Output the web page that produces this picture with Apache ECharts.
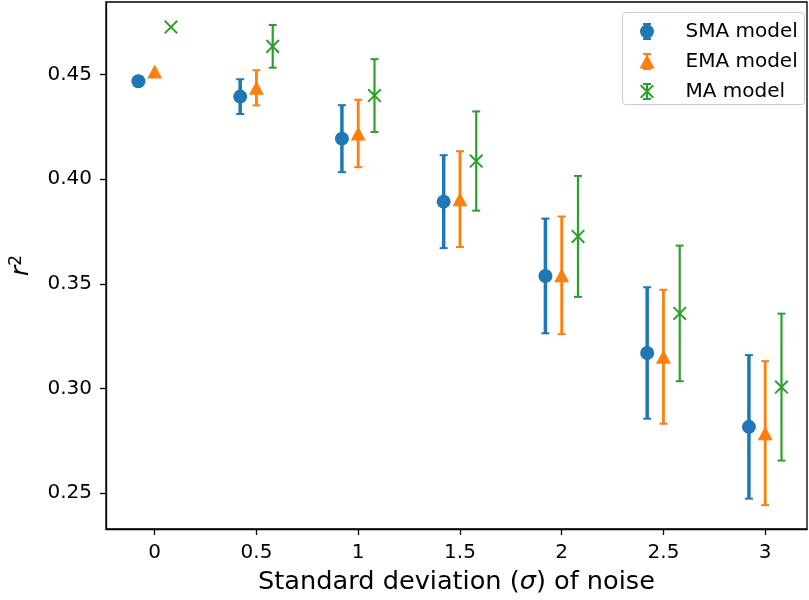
<!DOCTYPE html>
<html><head><meta charset="utf-8">
<script src="https://cdn.jsdelivr.net/npm/echarts@6/dist/echarts.min.js"></script>
<style>html,body{margin:0;padding:0;background:#fff}#c{width:809px;height:600px}</style>
</head><body><div id="c"></div>
<script>
// ---- data ----
const noiseLevels = [0, 0.5, 1, 1.5, 2, 2.5, 3];
const xTickValues = [0, 0.5, 1, 1.5, 2, 2.5, 3];
const xTickLabels = ['0', '0.5', '1', '1.5', '2', '2.5', '3'];
const yTickValues = [0.25, 0.30, 0.35, 0.40, 0.45];
const seriesNames = ['SMA model', 'EMA model', 'MA model'];
const smaMean = [0.4468, 0.4395, 0.4194, 0.3893, 0.3538, 0.3170, 0.2817];
const smaErr  = [0, 0.0083, 0.0160, 0.0222, 0.0274, 0.0314, 0.0343];
const emaMean = [0.4515, 0.4437, 0.4219, 0.3905, 0.3541, 0.3152, 0.2787];
const emaErr  = [0, 0.0084, 0.0161, 0.0229, 0.0281, 0.0320, 0.0344];
const maMean  = [0.4727, 0.4635, 0.4400, 0.4087, 0.3727, 0.3359, 0.3007];
const maErr   = [0, 0.0102, 0.0174, 0.0237, 0.0289, 0.0324, 0.0351];
// horizontal dodge of each model around the noise level
const smaShift = -0.08, emaShift = 0, maShift = 0.08;

const colors = ['#1f77b4', '#ff7f0e', '#2ca02c'];
const FONT = 'DejaVu Sans';

function rows(mean, err, shift) {
  return noiseLevels.map((n, i) => [n + shift, mean[i], err[i]]);
}

function makeRender(kind, color, barW) {
  return function (params, api) {
    const x = api.value(0), y = api.value(1), e = api.value(2);
    const c = api.coord([x, y]);
    const ch = [];
    if (e > 0) {
      const t = api.coord([x, y + e]);
      const b = api.coord([x, y - e]);
      ch.push({type: 'line', shape: {x1: c[0], y1: t[1], x2: c[0], y2: b[1]}, style: {stroke: color, lineWidth: barW}});
      ch.push({type: 'line', shape: {x1: c[0] - 4, y1: t[1], x2: c[0] + 4, y2: t[1]}, style: {stroke: color, lineWidth: 2}});
      ch.push({type: 'line', shape: {x1: c[0] - 4, y1: b[1], x2: c[0] + 4, y2: b[1]}, style: {stroke: color, lineWidth: 2}});
    }
    if (kind === 'circle') {
      ch.push({type: 'circle', shape: {cx: c[0], cy: c[1], r: 7}, style: {fill: color}});
    } else if (kind === 'triangle') {
      ch.push({type: 'polygon', shape: {points: [[c[0], c[1] - 7], [c[0] + 7.5, c[1] + 7], [c[0] - 7.5, c[1] + 7]]}, style: {fill: color}});
    } else {
      const h = 6.3;
      ch.push({type: 'line', shape: {x1: c[0] - h, y1: c[1] - h, x2: c[0] + h, y2: c[1] + h}, style: {stroke: color, lineWidth: 2}});
      ch.push({type: 'line', shape: {x1: c[0] - h, y1: c[1] + h, x2: c[0] + h, y2: c[1] - h}, style: {stroke: color, lineWidth: 2}});
    }
    return {type: 'group', children: ch};
  };
}

const smaIcon = 'path://M3,0 L11,0 L11,2 L3,2 Z M3,15 L11,15 L11,17 L3,17 Z M5.25,2 L8.75,2 L8.75,15 L5.25,15 Z M0,8.5 A7,7 0 1 1 14,8.5 A7,7 0 1 1 0,8.5 Z';
const emaIcon = 'path://M3.5,0 L11.5,0 L11.5,2 L3.5,2 Z M3.5,15 L11.5,15 L11.5,17 L3.5,17 Z M6.25,2 L8.75,2 L8.75,15 L6.25,15 Z M7.5,1.5 L15,15.5 L0,15.5 Z';
const maIcon = 'path://M2.5,0 L10.5,0 L10.5,2 L2.5,2 Z M2.5,15 L10.5,15 L10.5,17 L2.5,17 Z M5.5,2 L7.5,2 L7.5,15 L5.5,15 Z M0.91,1.49 L13.51,14.09 L12.09,15.51 L-0.51,2.91 Z M12.09,1.49 L13.51,2.91 L0.91,15.51 L-0.51,14.09 Z';

const chart = echarts.init(document.getElementById('c'), null, {renderer: 'canvas'});
chart.setOption({
  animation: false,
  backgroundColor: '#fff',
  textStyle: {fontFamily: FONT},
  grid: {left: 106, right: 2, top: 2, bottom: 71, containLabel: false, outerBoundsMode: 'none',
    show: true, borderColor: '#000', borderWidth: 1.3, backgroundColor: 'transparent'},
  graphic: [{
    type: 'rect', left: 622, top: 12, z: 90,
    shape: {width: 182, height: 92, r: 3},
    style: {fill: 'rgba(255,255,255,0.8)', stroke: '#cccccc', lineWidth: 1}
  }],
  legend: {
    orient: 'vertical', left: 639.5, top: 21.5, padding: 0, z: 100,
    itemWidth: 15, itemHeight: 17, itemGap: 10,
    textStyle: {fontSize: 20, fontFamily: FONT, color: '#000', lineHeight: 17, padding: [0, 0, 0, 26]},
    data: [
      {name: seriesNames[0], icon: smaIcon},
      {name: seriesNames[1], icon: emaIcon},
      {name: seriesNames[2], icon: maIcon}
    ]
  },
  xAxis: {
    type: 'value', min: -0.2393, max: 3.2054,
    splitLine: {show: false},
    axisLine: {show: true, onZero: false, lineStyle: {color: '#000', width: 1.3}},
    axisTick: {show: true, length: 6, customValues: xTickValues, lineStyle: {color: '#000', width: 1.3}},
    axisLabel: {customValues: xTickValues, margin: 14, fontSize: 20, fontFamily: FONT, color: '#000',
      formatter: v => xTickLabels[xTickValues.indexOf(Math.round(v * 10) / 10)] ?? String(v)},
    name: 'Standard deviation ({it|σ}) of noise',
    nameLocation: 'middle', nameGap: 40,
    nameTextStyle: {fontSize: 25.6, fontFamily: FONT, color: '#000',
      rich: {it: {fontSize: 25.6, fontFamily: FONT, fontStyle: 'italic', color: '#000'}}}
  },
  yAxis: {
    type: 'value', min: 0.2329, max: 0.4847,
    splitLine: {show: false},
    axisLine: {show: true, onZero: false, lineStyle: {color: '#000', width: 1.3}},
    axisTick: {show: true, length: 6, customValues: yTickValues, lineStyle: {color: '#000', width: 1.3}},
    axisLabel: {customValues: yTickValues, margin: 14, fontSize: 20, fontFamily: FONT, color: '#000',
      formatter: v => v.toFixed(2)},
    name: '{i|r}{s|2}',
    nameLocation: 'middle', nameGap: 73, nameRotate: 90,
    nameTextStyle: {
      rich: {
        i: {fontSize: 25.6, fontFamily: FONT, fontStyle: 'italic', color: '#000', lineHeight: 25, padding: [2, 0, 0, 0]},
        s: {fontSize: 17, fontFamily: FONT, color: '#000', lineHeight: 14, verticalAlign: 'top'}
      }
    }
  },
  series: [
    {name: seriesNames[0], type: 'custom', itemStyle: {color: colors[0]}, renderItem: makeRender('circle', colors[0], 3.5), data: rows(smaMean, smaErr, smaShift), z: 2},
    {name: seriesNames[1], type: 'custom', itemStyle: {color: colors[1]}, renderItem: makeRender('triangle', colors[1], 2.8), data: rows(emaMean, emaErr, emaShift), z: 3},
    {name: seriesNames[2], type: 'custom', itemStyle: {color: colors[2]}, renderItem: makeRender('x', colors[2], 2.2), data: rows(maMean, maErr, maShift), z: 4}
  ]
});
</script></body></html>
